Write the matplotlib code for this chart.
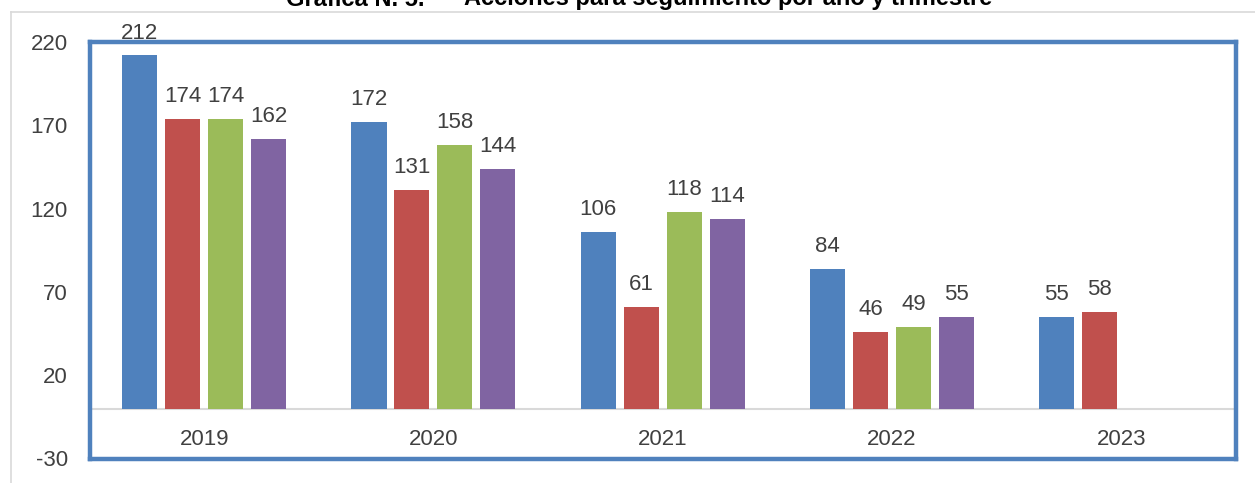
import matplotlib
matplotlib.use("Agg")
import matplotlib.pyplot as plt
from matplotlib.lines import Line2D
import numpy as np

plt.rcParams['font.family'] = ['Liberation Sans', 'DejaVu Sans']

years = ["2019", "2020", "2021", "2022", "2023"]
series_names = ["I Trimestre", "II Trimestre", "III Trimestre", "IV Trimestre"]
q1 = [212, 172, 106, 84, 55]
q2 = [174, 131, 61, 46, 58]
q3 = [174, 158, 118, 49, None]
q4 = [162, 144, 114, 55, None]
series = [q1, q2, q3, q4]
colors = ["#4F81BD", "#C0504D", "#9BBB59", "#8064A2"]
yticks = [-30, 20, 70, 120, 170, 220]
title_left = "Gráfica N. 5."
title_right = "Acciones para seguimiento por año y trimestre"

W, H = 1255, 483
fig = plt.figure(figsize=(W / 100, H / 100), dpi=100)
ax = fig.add_axes([89.5 / W, (H - 458.5) / H, (1236 - 89.5) / W, 416.5 / H])

x = np.arange(len(years))
step = 0.1875
width = 0.153
text_color = "#404040"
fs = 16
for i, (vals, c, name) in enumerate(zip(series, colors, series_names)):
    off = (i - 1.5) * step
    xs = [xi + off for xi, v in zip(x, vals) if v is not None]
    vs = [v for v in vals if v is not None]
    bars = ax.bar(xs, vs, width=width, color=c, label=name, zorder=2)
    for b, v in zip(bars, vs):
        ax.annotate(str(v), (b.get_x() + b.get_width() / 2, v),
                    xytext=(0, 8.5), textcoords="offset points",
                    ha="center", va="bottom", fontsize=fs, color=text_color)

ax.axhline(0, color="#d9d9d9", lw=1.5, zorder=1)
ax.set_xlim(-0.5, 4.5)
ax.set_ylim(-30, 220)
ax.set_yticks(yticks)
ax.set_yticklabels([str(t) for t in yticks], fontsize=fs, color=text_color)
ax.tick_params(axis="y", length=0, pad=15.5)
ax.set_xticks([])
for i, yr in enumerate(years):
    ax.text(i, -18.5, yr, ha="center", va="center", fontsize=fs, color=text_color)

for s in ax.spines.values():
    s.set_color("#4F81BD")
    s.set_linewidth(3.2)

# outer light-gray chart border (partially visible)
fig.add_artist(Line2D([11 / W, 11 / W], [0, 1 - 12 / H], transform=fig.transFigure,
                      color="#d9d9d9", lw=1.2))
fig.add_artist(Line2D([11 / W, 1], [1 - 12 / H, 1 - 12 / H], transform=fig.transFigure,
                      color="#d9d9d9", lw=1.2))

fig.text(286 / W, 1 - 5.5 / H, title_left, ha="left", va="baseline",
         fontsize=17, fontweight="bold", color="black")
fig.text(464 / W, 1 - 5.5 / H, title_right, ha="left", va="baseline",
         fontsize=17, fontweight="bold", color="black")

fig.savefig("out.png", dpi=100)
